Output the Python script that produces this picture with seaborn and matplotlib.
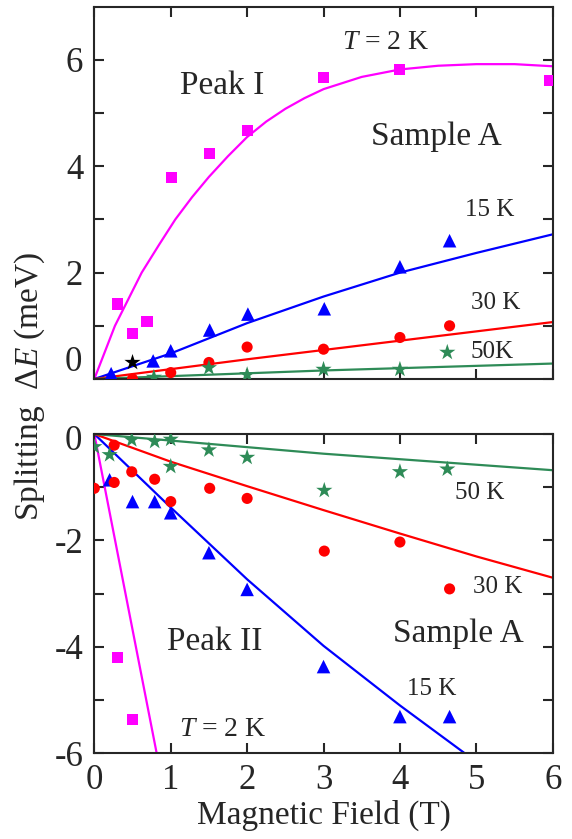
import numpy as np
import pandas as pd
import seaborn as sns
import matplotlib
import matplotlib.pyplot as plt
from matplotlib.ticker import MultipleLocator

matplotlib.use('Agg')

# Peak I (top panel) data points
p1_2K_x = [0.30, 0.50, 0.69, 1.01, 1.51, 2.01, 3.00, 4.00, 5.96]
p1_2K_y = [1.41, 0.86, 1.08, 3.79, 4.24, 4.67, 5.67, 5.82, 5.62]
p1_15K_x = [0.22, 0.77, 1.00, 1.51, 2.01, 3.01, 4.00, 4.65]
p1_15K_y = [0.10, 0.34, 0.53, 0.92, 1.22, 1.32, 2.11, 2.60]
p1_30K_x = [0.50, 1.00, 1.50, 2.00, 3.00, 4.00, 4.65]
p1_30K_y = [0.00, 0.12, 0.31, 0.60, 0.56, 0.78, 1.00]
p1_50K_x = [0.78, 1.50, 2.00, 3.00, 4.00, 4.62]
p1_50K_y = [0.03, 0.21, 0.08, 0.18, 0.18, 0.50]
p1_black_x = [0.50]
p1_black_y = [0.31]

# Peak I fit curves
f1_2K_x = [0, 0.27, 0.62, 0.85, 1.06, 1.28, 1.5, 1.75, 2.0, 2.25, 2.5, 2.75,
           3.0, 3.5, 4.0, 4.5, 5.0, 5.5, 6.0]
f1_2K_y = [0, 1.0, 2.0, 2.53, 3.0, 3.42, 3.80, 4.19, 4.55, 4.84, 5.08, 5.28,
           5.45, 5.68, 5.82, 5.89, 5.92, 5.92, 5.88]
f1_15K_x = [0, 1, 2, 3, 4, 5, 6]
f1_15K_y = [0, 0.48, 1.05, 1.55, 2.00, 2.37, 2.72]
f1_30K_x = [0, 2, 4, 6]
f1_30K_y = [0, 0.37, 0.72, 1.07]
f1_50K_x = [0, 3, 6]
f1_50K_y = [0, 0.16, 0.29]

# Peak II (bottom panel) data points
p2_2K_x = [0.30, 0.50]
p2_2K_y = [-4.20, -5.36]
p2_15K_x = [0.20, 0.50, 0.79, 1.00, 1.50, 2.00, 3.00, 4.00, 4.65]
p2_15K_y = [-0.86, -1.27, -1.27, -1.48, -2.23, -2.92, -4.37, -5.31, -5.31]
p2_30K_x = [0.00, 0.26, 0.26, 0.49, 0.79, 1.00, 1.51, 2.00, 3.01, 4.00, 4.65]
p2_30K_y = [-1.02, -0.21, -0.91, -0.71, -0.85, -1.27, -1.02, -1.21, -2.20, -2.03, -2.91]
p2_50K_x = [0.00, 0.20, 0.49, 0.79, 1.00, 1.00, 1.50, 2.00, 3.01, 4.00, 4.62]
p2_50K_y = [-0.24, -0.39, -0.11, -0.14, -0.10, -0.61, -0.30, -0.44, -1.06, -0.71, -0.66]

# Peak II fit curves
f2_2K_x = [0, 1.0]
f2_2K_y = [0, -7.35]
f2_15K_x = [0, 1, 2, 3, 4, 4.85, 5.2]
f2_15K_y = [0, -1.38, -2.73, -3.98, -5.10, -6.00, -6.35]
f2_30K_x = [0, 1, 2, 3, 4, 5, 6]
f2_30K_y = [0, -0.52, -0.98, -1.43, -1.87, -2.30, -2.70]
f2_50K_x = [0, 3, 6]
f2_50K_y = [0, -0.37, -0.68]

c_2K = '#ff00ff'
c_15K = '#0000ff'
c_30K = '#ff0000'
c_50K = '#2e8b57'

sns.set_style('ticks')
plt.rcParams['font.family'] = ['Liberation Serif', 'DejaVu Serif']
plt.rcParams['mathtext.fontset'] = 'custom'
plt.rcParams['mathtext.rm'] = 'Liberation Serif'
plt.rcParams['mathtext.it'] = 'Liberation Serif:italic'

fig = plt.figure(figsize=(5.72, 8.39), dpi=100)
ax1 = fig.add_axes([0.1649, 0.5483, 0.8014, 0.4437])
ax2 = fig.add_axes([0.1649, 0.1021, 0.8014, 0.3806])


def draw(ax, x, y, color, marker, size):
    sns.scatterplot(x=x, y=y, ax=ax, color=color, marker=marker, s=size,
                    edgecolor='none', linewidth=0, zorder=3)


def fit(ax, x, y, color):
    sns.lineplot(x=x, y=y, ax=ax, color=color, lw=1.6, estimator=None,
                 sort=False, zorder=2)


# top panel
fit(ax1, f1_2K_x, f1_2K_y, c_2K)
fit(ax1, f1_15K_x, f1_15K_y, c_15K)
fit(ax1, f1_30K_x, f1_30K_y, c_30K)
fit(ax1, f1_50K_x, f1_50K_y, c_50K)
draw(ax1, p1_2K_x, p1_2K_y, c_2K, 's', 64)
draw(ax1, p1_15K_x, p1_15K_y, c_15K, '^', 95)
draw(ax1, p1_30K_x, p1_30K_y, c_30K, 'o', 64)
draw(ax1, p1_50K_x, p1_50K_y, c_50K, '*', 150)
draw(ax1, p1_black_x, p1_black_y, 'black', '*', 150)

# bottom panel
fit(ax2, f2_2K_x, f2_2K_y, c_2K)
fit(ax2, f2_15K_x, f2_15K_y, c_15K)
fit(ax2, f2_30K_x, f2_30K_y, c_30K)
fit(ax2, f2_50K_x, f2_50K_y, c_50K)
draw(ax2, p2_2K_x, p2_2K_y, c_2K, 's', 64)
draw(ax2, p2_15K_x, p2_15K_y, c_15K, '^', 95)
draw(ax2, p2_30K_x, p2_30K_y, c_30K, 'o', 64)
draw(ax2, p2_50K_x, p2_50K_y, c_50K, '*', 150)

ax1.set_xlim(0, 6)
ax1.set_ylim(0, 7)
ax2.set_xlim(0, 6)
ax2.set_ylim(-6, 0)

for ax in (ax1, ax2):
    ax.xaxis.set_major_locator(MultipleLocator(1))
    ax.tick_params(which='both', direction='in', top=True, right=True,
                   length=7, width=1.5, labelsize=25, pad=8)
    for s in ax.spines.values():
        s.set_linewidth(1.5)
    ax.set_xlabel('')
    ax.set_ylabel('')

ax1.tick_params(labelbottom=False)
ax1.set_yticks([0, 2, 4, 6], ['', '2', '4', '6'])
ax2.set_yticks([0, -2, -4, -6], ['', '-2', '-4', '-6'])
ax1.set_yticks([1, 3, 5], minor=True)
ax2.set_yticks([-1, -3, -5], minor=True)

# zero labels sit slightly off the spine, as in the original
ax1.annotate('0', xy=(0, 0), xycoords=('axes fraction', 'data'), xytext=(-12, 16),
             textcoords='offset pixels', ha='right', va='center', fontsize=25)
ax2.annotate('0', xy=(0, 0), xycoords=('axes fraction', 'data'), xytext=(-12, -7),
             textcoords='offset pixels', ha='right', va='center', fontsize=25)

ax2.set_xlabel('Magnetic Field (T)', fontsize=24, labelpad=2)
fig.text(0.052, 0.54, 'Splitting  Δ$E$ (meV)', rotation=90, ha='center',
         va='center', fontsize=24)

# annotations
ax1.text(3.82, 6.33, '$T$ = 2 K', fontsize=20, ha='center', va='center')
ax1.text(1.67, 5.51, 'Peak I', fontsize=24, ha='center', va='center')
ax1.text(4.48, 4.55, 'Sample A', fontsize=24, ha='center', va='center')
ax1.text(5.18, 3.18, '15 K', fontsize=18, ha='center', va='center')
ax1.text(5.25, 1.42, '30 K', fontsize=18, ha='center', va='center')
ax1.text(5.21, 0.51, '50K', fontsize=18, ha='center', va='center')

ax2.text(5.05, -1.10, '50 K', fontsize=18, ha='center', va='center')
ax2.text(5.28, -2.87, '30 K', fontsize=18, ha='center', va='center')
ax2.text(4.77, -3.75, 'Sample A', fontsize=24, ha='center', va='center')
ax2.text(1.57, -3.90, 'Peak II', fontsize=24, ha='center', va='center')
ax2.text(4.41, -4.80, '15 K', fontsize=18, ha='center', va='center')
ax2.text(1.68, -5.56, '$T$ = 2 K', fontsize=20, ha='center', va='center')

fig.savefig('out.png', dpi=100)
